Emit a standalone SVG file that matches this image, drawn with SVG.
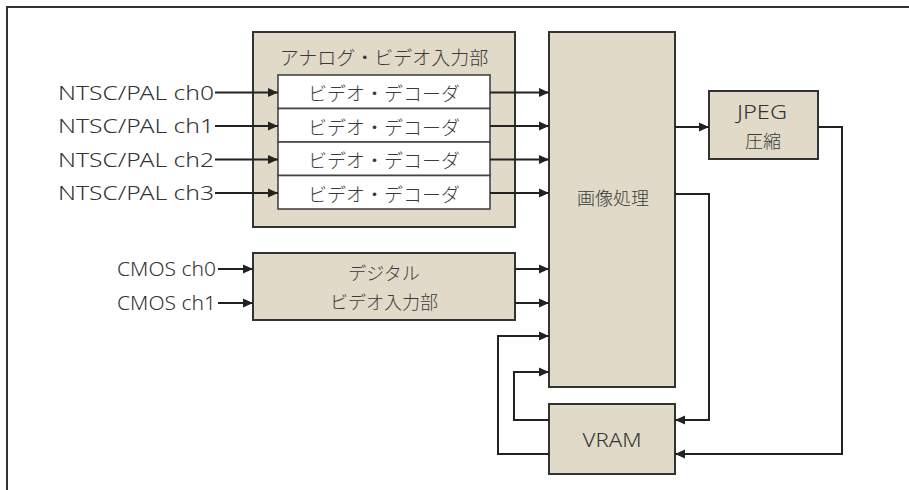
<svg xmlns="http://www.w3.org/2000/svg" width="909" height="490" viewBox="0 0 909 490">
<defs>
<marker id="ah" markerUnits="userSpaceOnUse" markerWidth="10" markerHeight="10" viewBox="0 0 10 10" refX="10" refY="5" orient="auto">
<path d="M0,0.5 L10,5 L0,9.5 Z" fill="#222"/>
</marker>
<style>
.box{fill:#e1dac9;stroke:#333;stroke-width:2}
.wbox{fill:#fff;stroke:#444;stroke-width:1.6}
.t{font-family:"Noto Sans","Liberation Sans",sans-serif;font-weight:300;font-size:20px;fill:#333;dominant-baseline:central}
.j{font-family:"Noto Sans CJK JP",sans-serif;font-size:18px;fill:#3a3a3a;dominant-baseline:central;text-anchor:middle;font-weight:300}
.j19{font-size:19px}
.l{font-family:"Noto Sans","Liberation Sans",sans-serif;font-weight:300;font-size:20px;fill:#333;dominant-baseline:central;text-anchor:middle}
.c{fill:none;stroke:#222;stroke-width:2}
.a{marker-end:url(#ah)}
</style>
</defs>
<path d="M7,490 V7 H909" fill="none" stroke="#333" stroke-width="2"/>
<g id="analog">
<rect class="box" x="253" y="32" width="262" height="195"/>
<text class="j j19" x="384" y="56">アナログ・ビデオ入力部</text>
</g>
<g id="dec0"><rect class="wbox" x="278" y="75" width="212" height="33.5"/><text class="j j19" x="384" y="92.5">ビデオ・デコーダ</text></g>
<g id="dec1"><rect class="wbox" x="278" y="108.5" width="212" height="33.5"/><text class="j j19" x="384" y="126">ビデオ・デコーダ</text></g>
<g id="dec2"><rect class="wbox" x="278" y="142" width="212" height="33.5"/><text class="j j19" x="384" y="159.5">ビデオ・デコーダ</text></g>
<g id="dec3"><rect class="wbox" x="278" y="175.5" width="212" height="33.5"/><text class="j j19" x="384" y="193">ビデオ・デコーダ</text></g>
<g id="digital">
<rect class="box" x="253" y="253" width="262" height="67"/>
<text class="j" x="384" y="272">デジタル</text>
<text class="j" x="384" y="301">ビデオ入力部</text>
</g>
<g id="proc">
<rect class="box" x="549" y="32" width="126" height="355"/>
<text class="j" x="613" y="197">画像処理</text>
</g>
<g id="jpeg">
<rect class="box" x="709" y="91" width="109" height="68"/>
<text class="l" x="762" y="111" textLength="50" lengthAdjust="spacingAndGlyphs">JPEG</text>
<text class="j" x="763" y="140">圧縮</text>
</g>
<g id="vram">
<rect class="box" x="549" y="404" width="126" height="70"/>
<text class="l" x="612" y="439" textLength="59" lengthAdjust="spacingAndGlyphs">VRAM</text>
</g>
<g id="labels">
<text class="t" x="214" y="92" text-anchor="end" textLength="156" lengthAdjust="spacingAndGlyphs">NTSC/PAL ch0</text>
<text class="t" x="214" y="125.5" text-anchor="end" textLength="156" lengthAdjust="spacingAndGlyphs">NTSC/PAL ch1</text>
<text class="t" x="214" y="159" text-anchor="end" textLength="156" lengthAdjust="spacingAndGlyphs">NTSC/PAL ch2</text>
<text class="t" x="214" y="192.5" text-anchor="end" textLength="156" lengthAdjust="spacingAndGlyphs">NTSC/PAL ch3</text>
<text class="t" x="216" y="268.5" text-anchor="end" textLength="99" lengthAdjust="spacingAndGlyphs">CMOS ch0</text>
<text class="t" x="216" y="302.5" text-anchor="end" textLength="99" lengthAdjust="spacingAndGlyphs">CMOS ch1</text>
</g>
<g id="connectors">
<path class="c a" d="M215,92.5 H278"/>
<path class="c a" d="M215,126 H278"/>
<path class="c a" d="M215,159.5 H278"/>
<path class="c a" d="M215,193 H278"/>
<path class="c a" d="M218,269 H253"/>
<path class="c a" d="M218,303 H253"/>
<path class="c a" d="M490,92.5 H549"/>
<path class="c a" d="M490,126 H549"/>
<path class="c a" d="M490,159.5 H549"/>
<path class="c a" d="M490,193 H549"/>
<path class="c a" d="M515,269 H549"/>
<path class="c a" d="M515,303 H549"/>
<path class="c a" d="M675,127 H709"/>
<path class="c a" d="M818,127 H842 V454 H675"/>
<path class="c a" d="M675,194 H709 V420 H675"/>
<path class="c a" d="M549,420 H514 V372 H549"/>
<path class="c a" d="M549,454 H498 V336 H549"/>
</g>
</svg>
